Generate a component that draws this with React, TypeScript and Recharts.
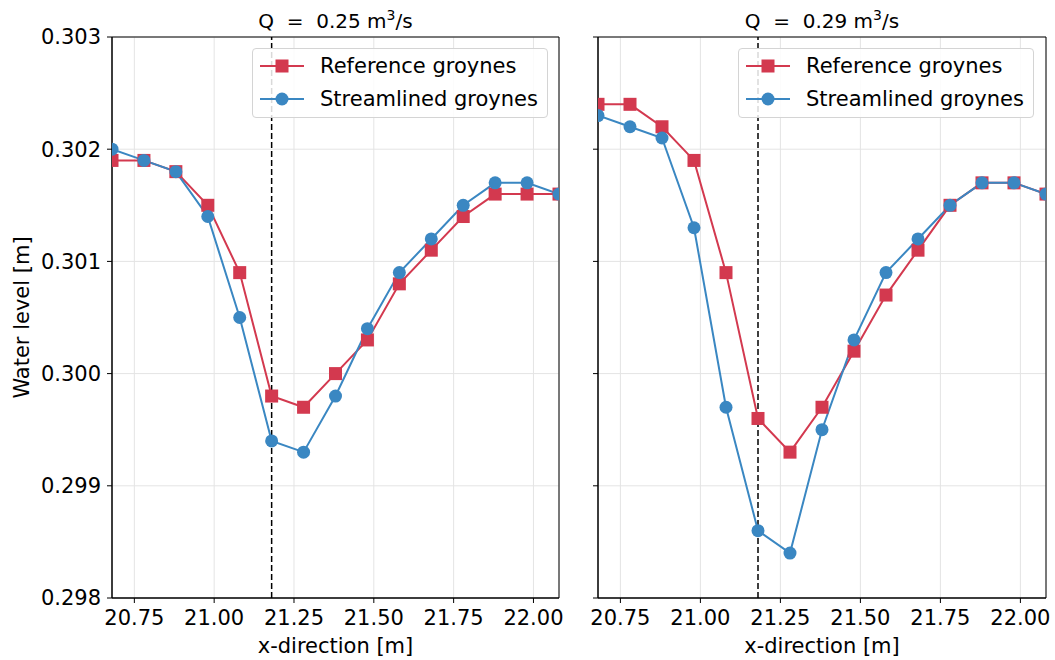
import React from 'react';
import {
  LineChart,
  Line,
  XAxis,
  YAxis,
  CartesianGrid,
  ReferenceLine,
  ReferenceArea,
  Legend,
} from 'recharts';

// x positions along the flume [m]
const xPositions = [20.68, 20.78, 20.88, 20.98, 21.08, 21.18, 21.28, 21.38, 21.48, 21.58, 21.68, 21.78, 21.88, 21.98, 22.08];

// Q = 0.25 m3/s
const refLow = [0.3019, 0.3019, 0.3018, 0.3015, 0.3009, 0.2998, 0.2997, 0.3, 0.3003, 0.3008, 0.3011, 0.3014, 0.3016, 0.3016, 0.3016];
const streamLow = [0.302, 0.3019, 0.3018, 0.3014, 0.3005, 0.2994, 0.2993, 0.2998, 0.3004, 0.3009, 0.3012, 0.3015, 0.3017, 0.3017, 0.3016];

// Q = 0.29 m3/s
const refHigh = [0.3024, 0.3024, 0.3022, 0.3019, 0.3009, 0.2996, 0.2993, 0.2997, 0.3002, 0.3007, 0.3011, 0.3015, 0.3017, 0.3017, 0.3016];
const streamHigh = [0.3023, 0.3022, 0.3021, 0.3013, 0.2997, 0.2986, 0.2984, 0.2995, 0.3003, 0.3009, 0.3012, 0.3015, 0.3017, 0.3017, 0.3016];

const xTicks = [20.75, 21.0, 21.25, 21.5, 21.75, 22.0];
const yTicks = [0.298, 0.299, 0.3, 0.301, 0.302, 0.303];
const groyneX = 21.18;

const RED = '#d3394f';
const BLUE = '#3a87c2';
const FONT = '"DejaVu Sans", sans-serif';
const FS = 21;

const makeRows = (ref: number[], stream: number[]) =>
  xPositions.map((x, i) => ({ x, ref: ref[i], stream: stream[i] }));

const SquareDot = (props: any) => {
  const { cx, cy, index } = props;
  if (cx == null || cy == null) return null;
  return <rect key={`sq-${index}`} x={cx - 6.5} y={cy - 6.5} width={13} height={13} fill={RED} />;
};

const LegendBox = () => (
  <div
    style={{
      width: 296,
      height: 70,
      boxSizing: 'border-box',
      border: '1px solid #d4d4d4',
      borderRadius: 4,
      background: 'rgba(255,255,255,0.85)',
      position: 'relative',
      fontFamily: FONT,
      fontSize: FS,
      color: '#000',
    }}
  >
    {[
      { name: 'Reference groynes', color: RED, square: true, top: 4 },
      { name: 'Streamlined groynes', color: BLUE, square: false, top: 37 },
    ].map((r) => (
      <div key={r.name} style={{ position: 'absolute', left: 7, top: r.top, height: 26, display: 'flex', alignItems: 'center', whiteSpace: 'nowrap' }}>
        <svg width={44} height={16} style={{ marginRight: 16 }}>
          <line x1={0} y1={8} x2={44} y2={8} stroke={r.color} strokeWidth={2} />
          {r.square ? <rect x={15.5} y={1.5} width={13} height={13} fill={r.color} /> : <circle cx={22} cy={8} r={6.5} fill={r.color} />}
        </svg>
        <span>{r.name}</span>
      </div>
    ))}
  </div>
);

interface PanelProps {
  data: { x: number; ref: number; stream: number }[];
  width: number;
  yWidth: number;
  rightMargin: number;
  showYLabels: boolean;
  legendLeft: number;
}

function Panel({ data, width, yWidth, rightMargin, showYLabels, legendLeft }: PanelProps) {
  const tickStyle = { fontFamily: FONT, fontSize: FS, fill: '#000' };
  return (
    <LineChart width={width} height={660} data={data} margin={{ top: 37, right: rightMargin, bottom: 0, left: 0 }}>
      <CartesianGrid stroke="#e4e4e4" strokeWidth={1} />
      <XAxis
        dataKey="x"
        type="number"
        domain={[20.68, 22.08]}
        ticks={xTicks}
        allowDataOverflow
        height={62}
        tickSize={5}
        tickMargin={7}
        stroke="#000"
        tick={tickStyle}
        tickFormatter={(v: number) => v.toFixed(2)}
        label={{ value: 'x-direction [m]', position: 'insideBottom', offset: 7, style: { fontFamily: FONT, fontSize: FS, fill: '#000' } }}
      />
      <YAxis
        type="number"
        domain={[0.298, 0.303]}
        ticks={yTicks}
        allowDataOverflow
        width={yWidth}
        tickSize={5}
        tickMargin={6}
        stroke="#000"
        tick={tickStyle}
        tickFormatter={(v: number) => (showYLabels ? v.toFixed(3) : '')}
        label={
          showYLabels
            ? { value: 'Water level [m]', angle: -90, position: 'insideLeft', offset: 22, style: { fontFamily: FONT, fontSize: FS, fill: '#000', textAnchor: 'middle' } }
            : undefined
        }
      />
      <ReferenceLine x={groyneX} stroke="#000" strokeWidth={1.5} strokeDasharray="6 3" />
      <Line
        dataKey="ref"
        stroke={RED}
        strokeWidth={2}
        dot={SquareDot}
        activeDot={false}
        isAnimationActive={false}
      />
      <Line
        dataKey="stream"
        stroke={BLUE}
        strokeWidth={2}
        dot={{ r: 6.5, fill: BLUE, stroke: 'none', clipDot: true }}
        activeDot={false}
        isAnimationActive={false}
      />
      <ReferenceArea x1={20.68} x2={22.08} y1={0.298} y2={0.303} fill="none" stroke="#000" strokeWidth={1} fillOpacity={0} />
      <Legend
        layout="vertical"
        align="center"
        verticalAlign="middle"
        content={() => <LegendBox />}
        wrapperStyle={{ top: 48, left: legendLeft, width: 296, height: 70 }}
      />
    </LineChart>
  );
}

const Title = ({ q, cx }: { q: string; cx: number }) => (
  <text x={cx} y={28} textAnchor="middle" fontFamily={FONT} fontSize={20} fill="#000" xmlSpace="preserve" style={{ whiteSpace: 'pre' }}>
    {`Q  =  ${q} m`}
    <tspan dy={-8} fontSize={14}>3</tspan>
    <tspan dy={8}>/s</tspan>
  </text>
);

export default function App() {
  return (
    <div style={{ position: 'absolute', left: 0, top: 0, width: 1055, height: 660, background: '#fff', fontFamily: FONT }}>
      <div style={{ display: 'flex' }}>
        <Panel data={makeRows(refLow, streamLow)} width={575} yWidth={112} rightMargin={16} showYLabels legendLeft={252} />
        <Panel data={makeRows(refHigh, streamHigh)} width={480} yWidth={23} rightMargin={9} showYLabels={false} legendLeft={163} />
      </div>
      <svg width={1055} height={40} style={{ position: 'absolute', left: 0, top: 0, pointerEvents: 'none' }}>
        <Title q="0.25" cx={335.5} />
        <Title q="0.29" cx={822} />
      </svg>
    </div>
  );
}
